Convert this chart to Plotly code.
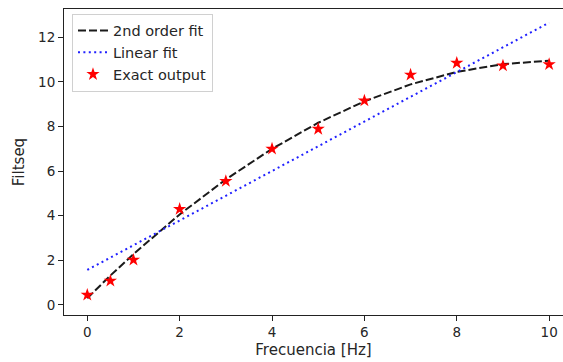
import plotly.graph_objects as go

# Data
freq = [0, 0.5, 1, 2, 3, 4, 5, 6, 7, 8, 9, 10]
exact_output = [0.45, 1.08, 2.02, 4.30, 5.55, 7.00, 7.89, 9.16, 10.32, 10.85, 10.73, 10.79]
fit_2nd = [0.30, 1.32, 2.28, 4.06, 5.63, 7.00, 8.17, 9.13, 9.89, 10.45, 10.80, 10.95]
lin_x = [0, 10]
lin_y = [1.57, 12.66]

x_ticks = [0, 2, 4, 6, 8, 10]
y_ticks = [0, 2, 4, 6, 8, 10, 12]

FONT = "DejaVu Sans"
TXT = "#262626"

fig = go.Figure()
fig.add_trace(go.Scatter(
    x=freq, y=fit_2nd, mode="lines", name="2nd order fit",
    line=dict(color="#1a1a1a", width=2, dash="8px,3px")))
fig.add_trace(go.Scatter(
    x=lin_x, y=lin_y, mode="lines", name="Linear fit",
    line=dict(color="#2020ff", width=2, dash="2px,3.4px")))
fig.add_trace(go.Scatter(
    x=freq, y=exact_output, mode="markers", name="Exact output",
    marker=dict(symbol="star", color="red", size=10, line=dict(width=0))))

axis_common = dict(
    showgrid=False, zeroline=False, showline=True, linecolor="#222",
    linewidth=1, ticks="outside", ticklen=5, tickwidth=1, tickcolor="#222",
    tickfont=dict(family=FONT, size=13.5, color=TXT), automargin=False,
)

fig.update_layout(
    width=563, height=362,
    margin=dict(l=64, r=0, t=9, b=47, autoexpand=False),
    paper_bgcolor="white", plot_bgcolor="white",
    font=dict(family=FONT, size=15, color=TXT),
    showlegend=True,
    legend=dict(
        x=0.016, y=0.985, xanchor="left", yanchor="top",
        bgcolor="rgba(255,255,255,0.8)", bordercolor="#d0d0d0", borderwidth=1,
        font=dict(family=FONT, size=14.5, color=TXT),
        tracegroupgap=0, itemwidth=30,
    ),
    xaxis=dict(
        range=[-0.504, 10.30], tickvals=x_ticks, mirror=True,
        title=dict(text="Frecuencia [Hz]", font=dict(family=FONT, size=15, color=TXT), standoff=5),
        **axis_common),
    yaxis=dict(
        range=[-0.45, 13.27], tickvals=y_ticks, mirror=False,
        title=dict(text="Filtseq", font=dict(family=FONT, size=15, color=TXT), standoff=9),
        **axis_common),
)

fig.write_html(
    "out.html",
    config={"displayModeBar": False},
    post_script="document.body.style.margin='0px';document.body.style.overflow='hidden';",
)
